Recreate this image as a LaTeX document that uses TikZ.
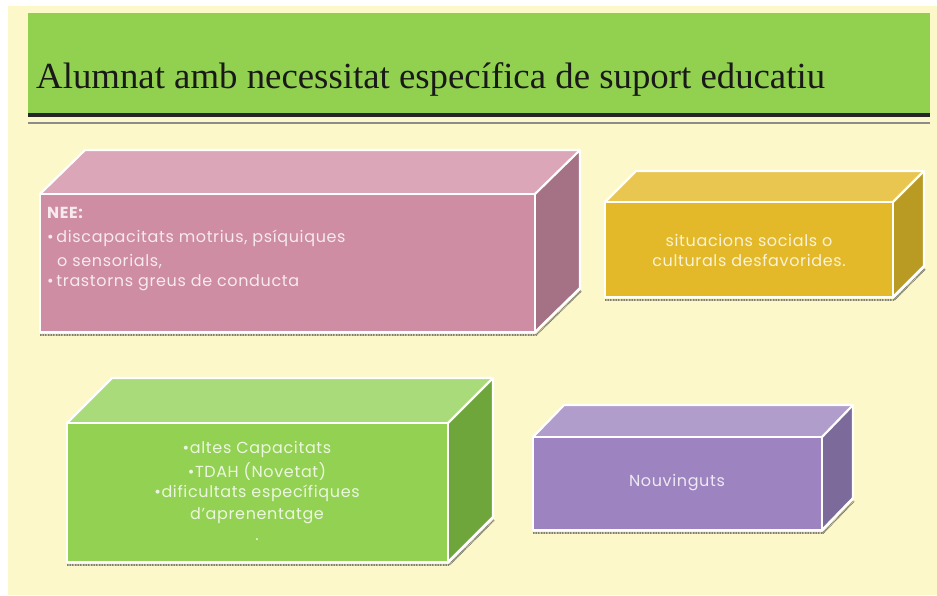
\documentclass[tikz,border=0pt]{standalone}
\usepackage{fontspec}
\setmainfont{Poppins}[LetterSpace=4]
\newfontfamily\titlefont{Liberation Serif}
\definecolor{cream}{HTML}{FDF8CA}
\definecolor{titlegreen}{HTML}{92D050}
\definecolor{pinkF}{HTML}{CE8DA3}
\definecolor{pinkT}{HTML}{DBA7B8}
\definecolor{pinkS}{HTML}{A57184}
\definecolor{yelF}{HTML}{E3B929}
\definecolor{yelT}{HTML}{E9C650}
\definecolor{yelS}{HTML}{B99A22}
\definecolor{grnF}{HTML}{93D152}
\definecolor{grnT}{HTML}{AADB7A}
\definecolor{grnS}{HTML}{6FA63B}
\definecolor{purF}{HTML}{9D84C0}
\definecolor{purT}{HTML}{B09DCB}
\definecolor{purS}{HTML}{7C6A9A}
\tikzset{
  cubeedge/.style={draw=white,line width=2.2pt,line join=round},
  shadowline/.style={draw=black!70,line width=1.8pt,opacity=0.7,dash pattern=on 1pt off 0.6pt},
  boxtext/.style={text=white,text opacity=0.82,font=\fontsize{16}{19}\selectfont,inner sep=0pt},
}
% #1 x1, #2 y1 (top), #3 x2, #4 y2 (bottom), #5 dx, #6 dy, #7 front, #8 top, #9 side
\newcommand\mycube[9]{%
  \draw[shadowline] (#1,#4+3) -- (#3+1,#4+3) -- (#3+#5+1,#4+#6+3);
  \fill[#8] (#1,#2) -- (#1+#5,#2+#6) -- (#3+#5,#2+#6) -- (#3,#2) -- cycle;
  \fill[#9] (#3,#2) -- (#3+#5,#2+#6) -- (#3+#5,#4+#6) -- (#3,#4) -- cycle;
  \fill[#7] (#1,#2) rectangle (#3,#4);
  \draw[cubeedge] (#1,#2) rectangle (#3,#4);
  \draw[cubeedge] (#1,#2) -- (#1+#5,#2+#6) -- (#3+#5,#2+#6) -- (#3+#5,#4+#6) -- (#3,#4);
  \draw[cubeedge] (#3,#2) -- (#3+#5,#2+#6);
}
\begin{document}
\begin{tikzpicture}[x=1pt,y=-1pt]
\useasboundingbox (0,0) rectangle (937,595);
\fill[white] (0,0) rectangle (937,595);
\fill[cream] (8,6) rectangle (937,595);
% title bar
\fill[titlegreen] (28,13) rectangle (930,113);
\fill[black!85] (28,113) rectangle (930,117);
\fill[black!45] (28,122) rectangle (930,124);
\node[anchor=base west,inner sep=0pt,font=\titlefont\fontsize{36.8}{40}\selectfont,text=black!90] (title) at (36,88) {Alumnat amb necessitat específica de suport educatiu};
% cubes
\mycube{40}{194}{535}{332}{45}{-44}{pinkF}{pinkT}{pinkS}
\mycube{605}{202}{893}{297}{31}{-31}{yelF}{yelT}{yelS}
\mycube{67}{423}{448}{562}{45}{-45}{grnF}{grnT}{grnS}
\mycube{533}{437}{822}{530}{31}{-32}{purF}{purT}{purS}
% pink text
\node[boxtext,anchor=west,font=\fontsize{16}{19}\selectfont\bfseries] (nee) at (47,213) {NEE:};
\node[boxtext,anchor=west] (nee1) at (47,238) {•\,discapacitats motrius, psíquiques};
\node[boxtext,anchor=west] (nee2) at (57,262) {o sensorials,};
\node[boxtext,anchor=west] (nee3) at (47,283) {•\,trastorns greus de conducta};
% yellow text
\node[boxtext] (y1) at (749,240) {situacions socials o};
\node[boxtext] (y2) at (749,260) {culturals desfavorides.};
% green text
\node[boxtext] (g1) at (257,449) {•altes Capacitats};
\node[boxtext] (g2) at (257,472) {•TDAH (Novetat)};
\node[boxtext] (g3) at (257,493) {•dificultats específiques};
\node[boxtext] (g4) at (257,516) {d’aprenentatge};
\node[boxtext] (g5) at (257,540) {.};
% purple text
\node[boxtext] (p1) at (677,483) {Nouvinguts};
\end{tikzpicture}
\end{document}
